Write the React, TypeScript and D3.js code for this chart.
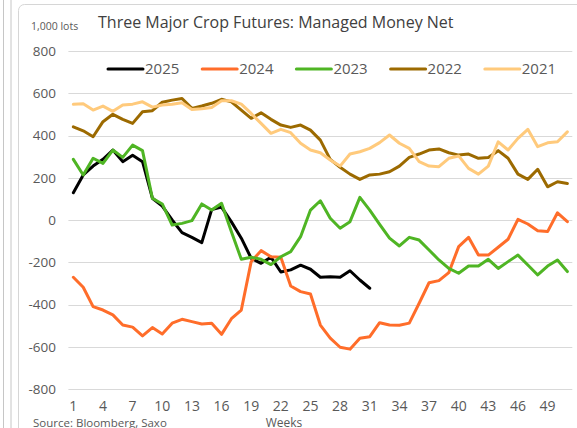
import { useEffect, useRef } from 'react';
import * as d3 from 'd3';

const WEEKS = Array.from({ length: 51 }, (_, i) => i + 1);
const TICK_WEEKS = [1, 4, 7, 10, 13, 16, 19, 22, 25, 28, 31, 34, 37, 40, 43, 46, 49];
const Y_TICKS = [-800, -600, -400, -200, 0, 200, 400, 600, 800];

const Y2025 = [130, 214, 256, 288, 332, 277, 307, 277, 104, 67, 1, -59, -81, -106, 50, 62, -8, -85, -180, -204, -175, -245, -235, -213, -232, -270, -267, -270, -239, -283, -322];
const Y2024 = [-270, -317, -409, -425, -448, -496, -506, -547, -508, -538, -487, -469, -480, -491, -487, -540, -466, -425, -196, -144, -173, -175, -311, -338, -349, -496, -558, -601, -610, -558, -551, -485, -496, -497, -487, -393, -296, -286, -248, -125, -81, -165, -165, -128, -90, 4, -18, -50, -54, 35, -7];
const Y2023 = [288, 214, 293, 269, 332, 297, 355, 329, 104, 77, -23, -15, -2, 77, 48, 80, -55, -185, -175, -185, -210, -173, -149, -78, 48, 92, 9, -38, -7, 108, 48, -20, -85, -122, -81, -94, -141, -188, -228, -251, -217, -217, -185, -228, -196, -165, -212, -259, -217, -188, -243];
const Y2022 = [442, 423, 395, 466, 501, 477, 458, 513, 518, 558, 568, 576, 529, 540, 553, 572, 560, 521, 482, 508, 477, 450, 439, 450, 426, 379, 288, 250, 218, 193, 214, 218, 229, 256, 297, 313, 332, 337, 319, 308, 313, 293, 297, 329, 293, 218, 193, 241, 158, 182, 174];
const Y2021 = [548, 551, 521, 540, 515, 545, 549, 560, 535, 545, 549, 556, 524, 527, 533, 565, 565, 549, 505, 458, 411, 430, 414, 364, 332, 319, 285, 256, 313, 324, 340, 367, 403, 364, 340, 277, 256, 253, 293, 304, 245, 218, 256, 371, 332, 387, 430, 348, 366, 371, 418];

const SERIES = [
  { name: '2025', color: '#000000', values: Y2025 },
  { name: '2024', color: '#ff6d2a', values: Y2024 },
  { name: '2023', color: '#4fb524', values: Y2023 },
  { name: '2022', color: '#9c6a00', values: Y2022 },
  { name: '2021', color: '#ffca7c', values: Y2021 },
];

const W = 577;
const H = 428;
const FONT = '"Open Sans", "Noto Sans", Arial, sans-serif';
const TEXT = '#595959';

export default function App() {
  const svgRef = useRef<SVGSVGElement>(null);

  useEffect(() => {
    const svg = d3.select(svgRef.current);
    svg.selectAll('*').remove();
    svg.style('font-family', FONT);

    // window frame bits on the left + chart border
    svg.append('rect').attr('width', W).attr('height', H).attr('fill', '#fff');
    [3.5, 11].forEach((x) =>
      svg.append('line').attr('x1', x).attr('x2', x).attr('y1', 0).attr('y2', H)
        .attr('stroke', '#c6c6c6'));
    svg.append('rect').attr('x', 18.5).attr('y', 4.5).attr('width', 620).attr('height', 500)
      .attr('rx', 6).attr('fill', '#fff').attr('stroke', '#d6d6d6');

    const x = d3.scaleBand<number>().domain(WEEKS).range([68.4, 572.3]);
    const y = d3.scaleLinear().domain([-800, 800]).range([389.3, 51.1]);
    const cx = (w: number) => (x(w) ?? 0) + x.bandwidth() / 2;

    // gridlines
    svg.append('g').selectAll('line').data(Y_TICKS).join('line')
      .attr('x1', 68.4).attr('x2', 572.3)
      .attr('y1', (d) => Math.round(y(d)) + 0.5).attr('y2', (d) => Math.round(y(d)) + 0.5)
      .attr('stroke', '#d9d9d9');

    // y labels
    svg.append('g').selectAll('text').data(Y_TICKS).join('text')
      .attr('x', 56).attr('y', (d) => y(d)).attr('dy', '0.35em')
      .attr('text-anchor', 'end').attr('fill', TEXT).style('font-size', '13.5px')
      .text((d) => d3.format('d')(d).replace('−', '-'));

    // x labels
    svg.append('g').selectAll('text').data(TICK_WEEKS).join('text')
      .attr('x', (d) => cx(d)).attr('y', 411)
      .attr('text-anchor', 'middle').attr('fill', TEXT).style('font-size', '14px')
      .text((d) => d);

    // lines
    const line = d3.line<number>().x((_, i) => cx(i + 1)).y((d) => y(d));
    svg.append('g').selectAll('path').data(SERIES).join('path')
      .attr('d', (s) => line(s.values))
      .attr('fill', 'none').attr('stroke', (s) => s.color)
      .attr('stroke-width', 3).attr('stroke-linejoin', 'round').attr('stroke-linecap', 'round');

    // legend
    const leg = svg.append('g');
    SERIES.forEach((s, i) => {
      const lx = 108 + i * 94.2;
      leg.append('line').attr('x1', lx).attr('x2', lx + 35).attr('y1', 69).attr('y2', 69)
        .attr('stroke', s.color).attr('stroke-width', 3).attr('stroke-linecap', 'round');
      leg.append('text').attr('x', lx + 37).attr('y', 69).attr('dy', '0.35em')
        .attr('fill', TEXT).style('font-size', '15px').text(s.name);
    });

    // titles and notes
    svg.append('text').attr('x', 31).attr('y', 30).attr('fill', TEXT)
      .style('font-size', '10.5px').text('1,000 lots');
    svg.append('text').attr('x', 98).attr('y', 28).attr('fill', '#404040')
      .style('font-size', '16px').text('Three Major Crop Futures: Managed Money Net');
    svg.append('text').attr('x', 33).attr('y', 426.5).attr('fill', TEXT)
      .style('font-size', '11.5px').text('Source: Bloomberg, Saxo');
    svg.append('text').attr('x', 284).attr('y', 426.5).attr('text-anchor', 'middle').attr('fill', TEXT)
      .style('font-size', '12px').text('Weeks');
  }, []);

  return (
    <div style={{ position: 'absolute', left: 0, top: 0 }}>
      <svg ref={svgRef} width={W} height={H} style={{ display: 'block' }} />
    </div>
  );
}
